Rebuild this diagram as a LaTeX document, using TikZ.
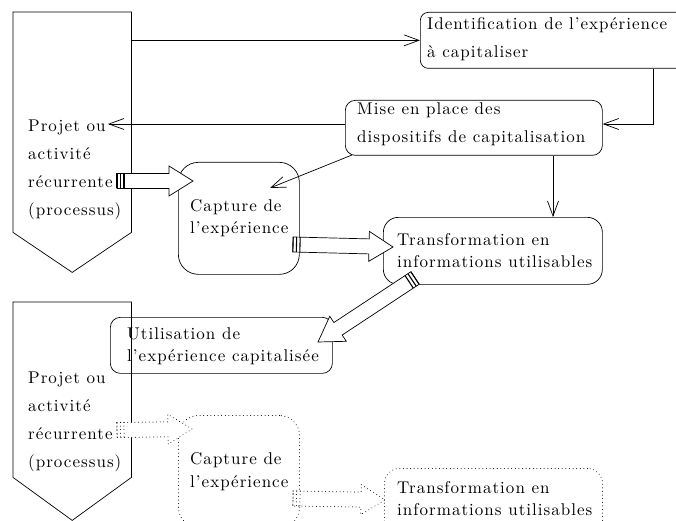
\documentclass[tikz,border=0pt]{standalone}
\usepackage{fontspec}
\newfontfamily\lmsp{lmroman10-regular.otf}[LetterSpace=6]
\usetikzlibrary{arrows.meta,calc}
\tikzset{
  arr/.style={-{Straight Barb[length=15pt,width=11pt]}, line width=0.7pt},
  box/.style={draw, line width=0.7pt, anchor=north west, inner sep=0},
  txtA/.style={font={\fontsize{17}{28}\lmsp}, align=left, inner sep=0, anchor=west},
  txtB/.style={font={\fontsize{17}{22.5}\lmsp}, align=left, inner sep=0, anchor=west},
  barw/.style={fill=white, line width=0.7pt},
  dots/.style={line cap=round, dash pattern=on 0.01pt off 3.6pt, line width=1pt},
}
\newcommand\blockarr[3]{%
  \coordinate (bt) at (#1);
  \coordinate (bp) at (#2);
  \coordinate (bh) at ($(bp)!24pt!(bt)$);
  \draw[barw,#3] ($(bt)!7.5pt!90:(bp)$) -- ($(bh)!7.5pt!90:(bp)$) -- ($(bh)!15pt!90:(bp)$)
     -- (bp) -- ($(bh)!15pt!-90:(bp)$) -- ($(bh)!7.5pt!-90:(bp)$) -- ($(bt)!7.5pt!-90:(bp)$) -- cycle;
  \coordinate (bs1) at ($(bt)!3.5pt!(bp)$);
  \coordinate (bs2) at ($(bt)!7pt!(bp)$);
  \draw[line width=1.1pt,#3] ($(bt)!7.5pt!90:(bp)$) -- ($(bt)!7.5pt!-90:(bp)$)
     ($(bs1)!7.5pt!90:(bp)$) -- ($(bs1)!7.5pt!-90:(bp)$)
     ($(bs2)!7.5pt!90:(bp)$) -- ($(bs2)!7.5pt!-90:(bp)$);
}
\begin{document}
\begin{tikzpicture}[x=1pt,y=-1pt]
\useasboundingbox (0,0) rectangle (676,521);
\clip (0,0) rectangle (676,521);
% process pentagons
\node[inner sep=0, minimum width=118, minimum height=220, anchor=north west] (p1) at (13,12) {};
\draw[line width=0.7pt] (p1.north west) -- (p1.north east) -- (p1.south east) -- ($(p1.south)+(0,40)$) -- (p1.south west) -- cycle;
\node[txtA] (p1t) at (28,169.5) {Projet ou\\activité\\récurrente\\(processus)};
\node[inner sep=0, minimum width=118, minimum height=175, anchor=north west] (p2) at (13,302) {};
\draw[line width=0.7pt] (p2.north west) -- (p2.north east) -- (p2.south east) -- ($(p2.south)+(0,43)$) -- (p2.south west) -- cycle;
\node[txtA] (p2t) at (28,422) {Projet ou\\activité\\récurrente\\(processus)};
% boxes
\node[box, rounded corners=8pt, minimum width=270, minimum height=56] (ident) at (420,12) {};
\node[txtA] (identt) at (427,39) {Identification de l’expérience\\à capitaliser};
\node[box, rounded corners=10pt, minimum width=257, minimum height=55] (mise) at (345,100) {};
\node[txtA] (miset) at (357,124) {Mise en place des\\dispositifs de capitalisation};
\node[box, rounded corners=20pt, minimum width=121, minimum height=112] (capt) at (178,162) {};
\node[txtB] (captt) at (190,218) {Capture de\\l’expérience};
\node[box, rounded corners=15pt, minimum width=219, minimum height=67] (trans) at (383,217) {};
\node[txtB] (transt) at (397,250.5) {Transformation en\\informations utilisables};
\node[box, rounded corners=10pt, minimum width=222, minimum height=56] (util) at (110,317) {};
\node[txtB] (utilt) at (127,346) {Utilisation de\\l’expérience capitalisée};
\node[box, dots, rounded corners=20pt, minimum width=121, minimum height=112] (capt2) at (178,415) {};
\node[txtB] (capt2t) at (190,471.5) {Capture de\\l’expérience};
\node[box, dots, rounded corners=15pt, minimum width=218, minimum height=67] (trans2) at (384,468) {};
\node[txtB] (trans2t) at (397,498.5) {Transformation en\\informations utilisables};
% thin arrows
\coordinate (k1) at (653,124);
\coordinate (k2) at (108,124);
\coordinate (k3s) at (352,155);
\coordinate (k3) at (270,188);
\coordinate (k4) at (553,217);
\draw[arr] (p1.east |- ident.west) -- (ident.west);
\draw[arr] (ident.south -| k1) -- (k1) -- (mise.east |- k1);
\draw[arr] (mise.west |- k2) -- (k2);
\draw[arr] (k3s) -- (k3);
\draw[arr] (mise.south -| k4) -- (trans.north -| k4);
% block arrows
\coordinate (t1) at (117,181); \coordinate (h1) at (193,181);
\coordinate (t2) at (293,244.5); \coordinate (h2) at (393,247);
\coordinate (t3) at (415,278); \coordinate (h3) at (318,342);
\coordinate (t4) at (117,430); \coordinate (h4) at (192,429);
\coordinate (t5) at (293,498.5); \coordinate (h5) at (385,500);
\blockarr{t1}{h1}{}
\blockarr{t2}{h2}{}
\blockarr{t3}{h3}{}
\blockarr{t4}{h4}{dots}
\blockarr{t5}{h5}{dots}
\end{tikzpicture}
\end{document}
